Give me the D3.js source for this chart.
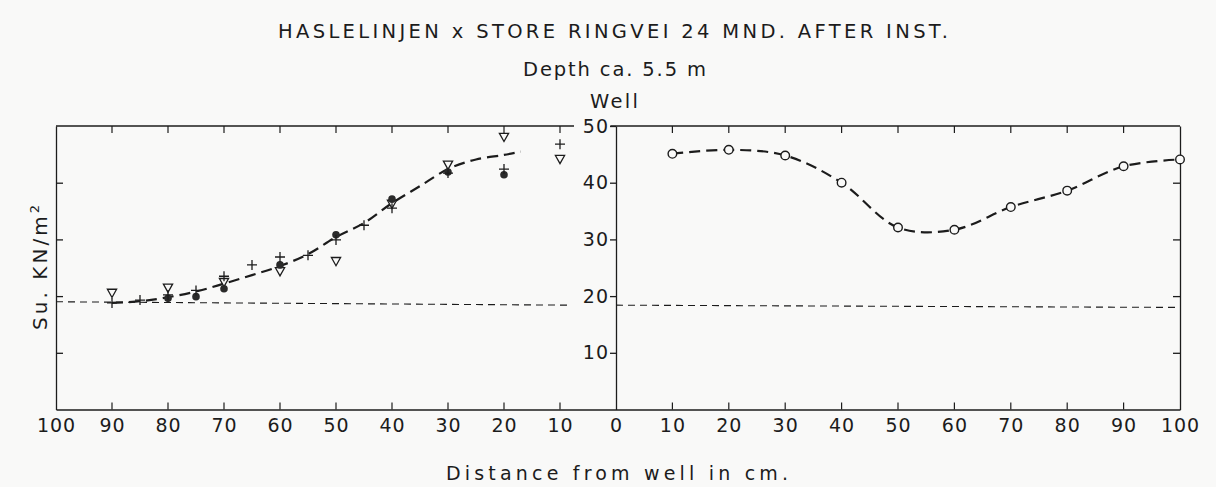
<!DOCTYPE html>
<html>
<head>
<meta charset="utf-8">
<script src="https://cdn.jsdelivr.net/npm/d3@7"></script>
<style>
  html, body { margin: 0; padding: 0; background: #f9f9f8; }
  svg { display: block; }
  text { font-family: "DejaVu Sans", "Liberation Sans", sans-serif; fill: #1c1c1c; }
</style>
</head>
<body>
<svg id="chart" width="1216" height="487"></svg>
<script>
// Tick positions along the distance axis (negative = left side of the well)
const distanceTicks = [-100, -90, -80, -70, -60, -50, -40, -30, -20, -10, 0, 10, 20, 30, 40, 50, 60, 70, 80, 90, 100];
const suTicks = [10, 20, 30, 40, 50];

// Left side: vane strength readings, [distance from well (cm), Su (kN/m2)]
const leftPlus = [[90, 18.8], [85, 19.3], [80, 20.2], [75, 21.0], [70, 23.5], [65, 25.5], [60, 26.9], [55, 27.2],
                  [50, 29.9], [45, 32.5], [40, 35.5], [30, 41.7], [20, 42.4], [10, 46.8]];
const leftDot = [[80, 19.6], [75, 19.9], [70, 21.3], [60, 25.5], [50, 30.8], [40, 37.1], [30, 41.9], [20, 41.4]];
const leftTri = [[90, 20.5], [80, 21.4], [70, 22.4], [60, 24.3], [50, 26.1], [40, 36.2], [30, 43.1], [20, 48.0], [10, 44.1]];
// Fitted trend on the left side
const leftTrend = [[90, 18.8], [85, 19.1], [80, 19.8], [75, 20.8], [70, 22.2], [65, 23.7], [60, 25.3], [55, 27.4],
                   [50, 30.4], [45, 32.9], [40, 36.4], [35, 39.4], [30, 42.4], [25, 44.1], [20, 44.9], [17, 45.5]];

// Right side: measured profile
const rightDist = [10, 20, 30, 40, 50, 60, 70, 80, 90, 100];
const rightSu = [45.1, 45.8, 44.8, 40.0, 32.1, 31.7, 35.7, 38.6, 42.9, 44.1];

// Undisturbed reference level (left and right halves)
const levelLeft = [[-100, 19.0], [-8, 18.4]];
const levelRight = [[0, 18.4], [100, 18.0]];

const ink = "#1c1c1c";
const paper = "#f9f9f8";

const svg = d3.select("#chart");

const x = d3.scaleLinear().domain([-100, 0, 100]).range([56, 616, 1180]);
const y = d3.scaleLinear().domain([0, 50]).range([409.5, 126]);

const inner = distanceTicks.filter(d => Math.abs(d) !== 100 && d !== 0);
const frame = svg.append("g").attr("stroke", ink).attr("stroke-width", 1.3);

// Bottom axis with labels
const bottom = svg.append("g")
  .attr("transform", `translate(0,${y(0)})`)
  .call(d3.axisBottom(x).tickValues(distanceTicks).tickSizeInner(0).tickSizeOuter(0)
    .tickPadding(9).tickFormat(d => Math.abs(d)));
bottom.select(".domain").attr("stroke", ink).attr("stroke-width", 1.3);
bottom.selectAll("text").style("font-size", "19px").attr("fill", ink).style("letter-spacing", "1px");

// Inward ticks on bottom and top edges
const tickG = svg.append("g").attr("stroke", ink).attr("stroke-width", 1.2);
tickG.selectAll("line.b").data(inner).join("line")
  .attr("x1", d => x(d)).attr("x2", d => x(d)).attr("y1", y(0)).attr("y2", y(0) - 7);
tickG.selectAll("line.t").data(inner).join("line").attr("class", "t")
  .attr("x1", d => x(d)).attr("x2", d => x(d)).attr("y1", y(50)).attr("y2", y(50) + 7);

// Top edge, interrupted by the "50" label of the centre axis
frame.append("line").attr("x1", x(-100)).attr("x2", x(-7.5)).attr("y1", y(50)).attr("y2", y(50));
frame.append("line").attr("x1", x(-1)).attr("x2", x(100)).attr("y1", y(50)).attr("y2", y(50));

// Outer left and right edges with inward ticks
const leftEdge = svg.append("g").attr("transform", `translate(${x(-100)},0)`)
  .call(d3.axisLeft(y).tickValues([10, 20, 30, 40]).tickSizeInner(-7).tickSizeOuter(0).tickFormat(""));
const rightEdge = svg.append("g").attr("transform", `translate(${x(100)},0)`)
  .call(d3.axisRight(y).tickValues([10, 20, 30, 40]).tickSizeInner(-7).tickSizeOuter(0).tickFormat(""));
[leftEdge, rightEdge].forEach(g => {
  g.selectAll("path, line").attr("stroke", ink).attr("stroke-width", 1.3);
});

// Centre axis at the well, labelled Su scale
const centre = svg.append("g").attr("transform", `translate(${x(0)},0)`)
  .call(d3.axisLeft(y).tickValues(suTicks).tickSizeInner(6).tickSizeOuter(0).tickPadding(1));
centre.selectAll("path, line").attr("stroke", ink).attr("stroke-width", 1.3);
centre.selectAll("text").style("font-size", "19px").attr("fill", ink).style("letter-spacing", "1px");

// Reference level (thin dashed)
const line = d3.line().x(d => x(d[0])).y(d => y(d[1]));
[levelLeft, levelRight].forEach(seg => {
  svg.append("path").datum(seg).attr("d", line)
    .attr("fill", "none").attr("stroke", ink).attr("stroke-width", 1.1).attr("stroke-dasharray", "7,5");
});

// Trend curves (heavy dashed)
const curve = d3.line().x(d => x(d[0])).y(d => y(d[1])).curve(d3.curveCatmullRom.alpha(0.5));
svg.append("path").datum(leftTrend.map(d => [-d[0], d[1]])).attr("d", curve)
  .attr("fill", "none").attr("stroke", ink).attr("stroke-width", 2.2).attr("stroke-dasharray", "11,6");
const rightPts = rightDist.map((d, i) => [d, rightSu[i]]);
svg.append("path").datum(rightPts).attr("d", curve)
  .attr("fill", "none").attr("stroke", ink).attr("stroke-width", 2.2).attr("stroke-dasharray", "11,6");

// Left-side markers
const marks = svg.append("g");
marks.selectAll("path.tri").data(leftTri).join("path").attr("class", "tri")
  .attr("transform", d => `translate(${x(-d[0])},${y(d[1])})`)
  .attr("d", "M-4.6,-4L4.6,-4L0,4.2Z")
  .attr("fill", paper).attr("stroke", ink).attr("stroke-width", 1.3);
marks.selectAll("circle.dot").data(leftDot).join("circle").attr("class", "dot")
  .attr("cx", d => x(-d[0])).attr("cy", d => y(d[1])).attr("r", 3.8).attr("fill", "#2a2a2a");
marks.selectAll("path.plus").data(leftPlus).join("path").attr("class", "plus")
  .attr("transform", d => `translate(${x(-d[0])},${y(d[1])})`)
  .attr("d", "M-5,0H5M0,-5V5")
  .attr("fill", "none").attr("stroke", ink).attr("stroke-width", 1.3);

// Right-side markers
marks.selectAll("circle.ring").data(rightPts).join("circle").attr("class", "ring")
  .attr("cx", d => x(d[0])).attr("cy", d => y(d[1])).attr("r", 4.3)
  .attr("fill", paper).attr("stroke", ink).attr("stroke-width", 1.4);

// Titles and axis names
const t = svg.append("g");
t.append("text").attr("x", 278).attr("y", 38).attr("textLength", 670).attr("lengthAdjust", "spacing")
  .style("font-size", "19.5px").text("HASLELINJEN x STORE RINGVEI 24 MND. AFTER INST.");
t.append("text").attr("x", 523).attr("y", 76).attr("textLength", 183).attr("lengthAdjust", "spacing")
  .style("font-size", "19.5px").text("Depth ca. 5.5 m");
t.append("text").attr("x", 590).attr("y", 108).attr("textLength", 48).attr("lengthAdjust", "spacing")
  .style("font-size", "19.5px").text("Well");
t.append("text").attr("x", 446).attr("y", 480).attr("textLength", 342).attr("lengthAdjust", "spacing")
  .style("font-size", "19px").text("Distance from well in cm.");

const ylab = t.append("text")
  .attr("transform", "translate(47,330) rotate(-90)")
  .attr("textLength", 125).attr("lengthAdjust", "spacing")
  .style("font-size", "20px");
ylab.append("tspan").text("Su.  KN/m");
ylab.append("tspan").attr("dy", -8).style("font-size", "13px").text("2");
</script>
</body>
</html>
